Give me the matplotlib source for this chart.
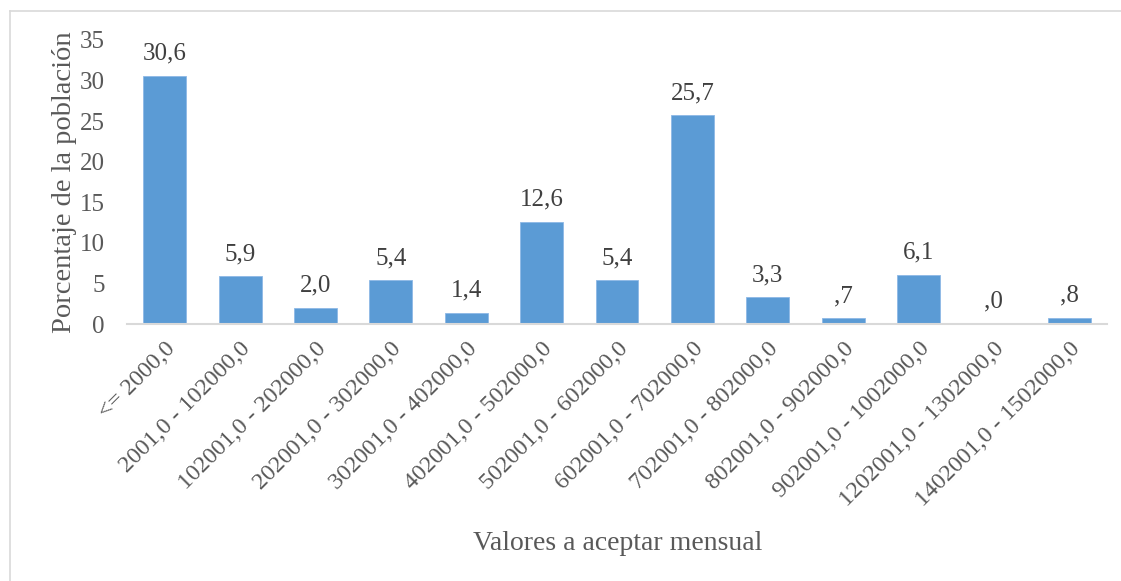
import numpy as np
import matplotlib.pyplot as plt
from matplotlib.lines import Line2D

# categorias del eje x
categorias = ['<= 2000,0', '2001,0 - 102000,0', '102001,0 - 202000,0',
              '202001,0 - 302000,0', '302001,0 - 402000,0', '402001,0 - 502000,0',
              '502001,0 - 602000,0', '602001,0 - 702000,0', '702001,0 - 802000,0',
              '802001,0 - 902000,0', '902001,0 - 1002000,0', '1202001,0 - 1302000,0',
              '1402001,0 - 1502000,0']
porcentajes = [30.6, 5.9, 2.0, 5.4, 1.4, 12.6, 5.4, 25.7, 3.3, 0.7, 6.1, 0.0, 0.8]
etiquetas = ['30,6', '5,9', '2,0', '5,4', '1,4', '12,6', '5,4', '25,7', '3,3',
             ',7', '6,1', ',0', ',8']
yticks = [0, 5, 10, 15, 20, 25, 30, 35]

plt.rcParams['font.family'] = ['Liberation Serif', 'DejaVu Serif']

fig = plt.figure(figsize=(11.21, 5.81), dpi=100)
ax = fig.add_axes([0.1133, 0.4423, 0.8742, 0.4889])

x = np.arange(len(categorias))
ax.bar(x, porcentajes, width=0.57, color='#5B9BD5', edgecolor='#8DB8E6', linewidth=0.6, zorder=2)

for i in range(len(x)):
    ax.annotate(etiquetas[i], (x[i], porcentajes[i]), xytext=(0, 8), textcoords='offset points',
                ha='center', va='bottom', fontsize=18, color='#404040')

ax.set_xlim(-0.5, len(categorias) - 0.5)
ax.set_ylim(0, 35)
ax.set_yticks(yticks)
ax.set_xticks(x)
ax.set_xticklabels(categorias, rotation=45, ha='right', rotation_mode='anchor')
ax.tick_params(axis='x', length=0, pad=10, labelsize=17.3, labelcolor='#595959')
ax.tick_params(axis='y', length=0, pad=16, labelsize=18, labelcolor='#595959')

for s in ['top', 'right', 'left']:
    ax.spines[s].set_visible(False)
ax.spines['bottom'].set_color('#D9D9D9')
ax.spines['bottom'].set_linewidth(1.5)

ax.set_ylabel('Porcentaje de la población', fontsize=20.5, color='#595959', labelpad=2)
fig.text(0.551, 0.065, 'Valores a aceptar mensual', ha='center', va='center',
         fontsize=20, color='#595959')

# marco del grafico (solo arriba e izquierda visibles)
fig.add_artist(Line2D([10/1121, 1.0], [1 - 11/581, 1 - 11/581], color='#D9D9D9', linewidth=1.2))
fig.add_artist(Line2D([10/1121, 10/1121], [0.0, 1 - 11/581], color='#D9D9D9', linewidth=1.2))

fig.savefig('out.png', dpi=100)
